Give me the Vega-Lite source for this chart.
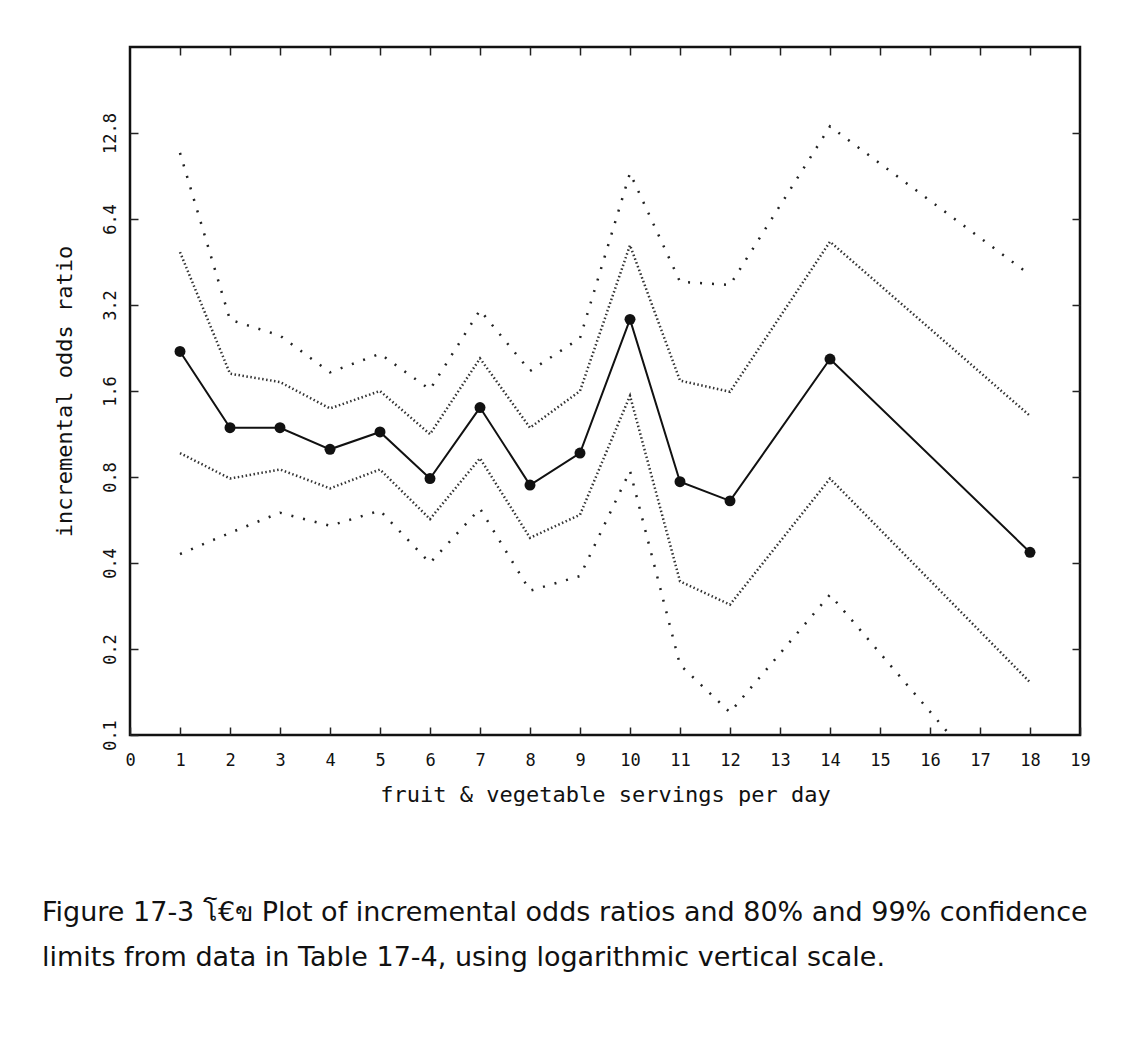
{
  "$schema": "https://vega.github.io/schema/vega-lite/v6.json",
  "autosize": "none",
  "width": 950,
  "height": 688,
  "padding": {"left": 130, "top": 47, "right": 48, "bottom": 313},
  "background": "white",
  "data": {"values": [
    {"x": 1, "est": 2.2, "lo80": 0.97, "hi80": 4.9, "lo99": 0.43, "hi99": 10.9},
    {"x": 2, "est": 1.19, "lo80": 0.79, "hi80": 1.84, "lo99": 0.51, "hi99": 2.84},
    {"x": 3, "est": 1.19, "lo80": 0.85, "hi80": 1.72, "lo99": 0.6, "hi99": 2.5},
    {"x": 4, "est": 1.0, "lo80": 0.73, "hi80": 1.39, "lo99": 0.54, "hi99": 1.86},
    {"x": 5, "est": 1.15, "lo80": 0.85, "hi80": 1.6, "lo99": 0.61, "hi99": 2.16},
    {"x": 6, "est": 0.79, "lo80": 0.57, "hi80": 1.13, "lo99": 0.4, "hi99": 1.62},
    {"x": 7, "est": 1.4, "lo80": 0.93, "hi80": 2.08, "lo99": 0.62, "hi99": 3.07},
    {"x": 8, "est": 0.75, "lo80": 0.49, "hi80": 1.19, "lo99": 0.32, "hi99": 1.88},
    {"x": 9, "est": 0.97, "lo80": 0.59, "hi80": 1.6, "lo99": 0.36, "hi99": 2.45},
    {"x": 10, "est": 2.85, "lo80": 1.54, "hi80": 5.18, "lo99": 0.84, "hi99": 9.27},
    {"x": 11, "est": 0.77, "lo80": 0.345, "hi80": 1.74, "lo99": 0.176, "hi99": 3.86},
    {"x": 12, "est": 0.66, "lo80": 0.286, "hi80": 1.59, "lo99": 0.12, "hi99": 3.76},
    {"x": 14, "est": 2.07, "lo80": 0.79, "hi80": 5.33, "lo99": 0.31, "hi99": 13.5},
    {"x": 18, "est": 0.436, "lo80": 0.153, "hi80": 1.31, "lo99": 0.047, "hi99": 4.08}
  ]},
  "title": {
    "text": ["Figure 17-3 โ€ข Plot of incremental odds ratios and 80% and 99% confidence", "limits from data in Table 17-4, using logarithmic vertical scale."],
    "orient": "bottom",
    "anchor": "start",
    "frame": "group",
    "align": "left",
    "dx": -88,
    "offset": 95,
    "font": "DejaVu Sans",
    "fontSize": 27,
    "fontWeight": "normal",
    "lineHeight": 45,
    "color": "#111"
  },
  "config": {
    "view": {"stroke": "#111", "strokeWidth": 2.5},
    "axis": {
      "domain": false,
      "grid": false,
      "tickColor": "#222",
      "tickWidth": 1.5,
      "tickSize": -8,
      "labelFont": "DejaVu Sans Mono",
      "labelFontSize": 17,
      "labelColor": "#111",
      "titleFont": "DejaVu Sans Mono",
      "titleFontSize": 22,
      "titleFontWeight": "normal",
      "titleColor": "#111"
    }
  },
  "resolve": {"axis": {"x": "independent", "y": "independent"}},
  "layer": [
    {
      "mark": {"type": "line", "clip": true, "color": "#222", "strokeWidth": 2.5, "strokeDash": [2, 10]},
      "encoding": {
        "x": {"field": "x", "type": "quantitative",
          "scale": {"domain": [0, 19], "nice": false, "zero": false},
          "axis": {"orient": "bottom", "values": [0,1,2,3,4,5,6,7,8,9,10,11,12,13,14,15,16,17,18,19],
            "title": "fruit & vegetable servings per day", "labelPadding": 25, "titlePadding": 16, "labelFlush": false, "labelOverlap": false}},
        "y": {"field": "hi99", "type": "quantitative",
          "scale": {"type": "log", "domain": [0.1, 25.6], "nice": false},
          "axis": {"orient": "left", "values": [0.1, 0.2, 0.4, 0.8, 1.6, 3.2, 6.4, 12.8], "format": ".1f",
            "labelAngle": -90, "labelAlign": "center", "labelBaseline": "bottom", "labelPadding": 19,
            "labelFlush": false, "labelOverlap": false,
            "title": "incremental odds ratio", "titlePadding": 25}}
      }
    },
    {
      "mark": {"type": "line", "clip": true, "color": "#222", "strokeWidth": 2.5, "strokeDash": [2, 10]},
      "encoding": {
        "x": {"field": "x", "type": "quantitative",
          "axis": {"orient": "top", "values": [1,2,3,4,5,6,7,8,9,10,11,12,13,14,15,16,17,18], "labels": false, "title": null}},
        "y": {"field": "lo99", "type": "quantitative",
          "axis": {"orient": "right", "values": [0.2, 0.4, 0.8, 1.6, 3.2, 6.4, 12.8], "labels": false, "title": null}}
      }
    },
    {
      "mark": {"type": "line", "clip": true, "color": "#333", "strokeWidth": 2.5, "strokeDash": [1.5, 2.5]},
      "encoding": {
        "x": {"field": "x", "type": "quantitative", "axis": null},
        "y": {"field": "hi80", "type": "quantitative", "axis": null}
      }
    },
    {
      "mark": {"type": "line", "clip": true, "color": "#333", "strokeWidth": 2.5, "strokeDash": [1.5, 2.5]},
      "encoding": {
        "x": {"field": "x", "type": "quantitative", "axis": null},
        "y": {"field": "lo80", "type": "quantitative", "axis": null}
      }
    },
    {
      "mark": {"type": "line", "clip": true, "color": "#111", "strokeWidth": 2},
      "encoding": {
        "x": {"field": "x", "type": "quantitative", "axis": null},
        "y": {"field": "est", "type": "quantitative", "axis": null}
      }
    },
    {
      "mark": {"type": "point", "filled": true, "shape": "circle", "color": "#111", "size": 120, "opacity": 1},
      "encoding": {
        "x": {"field": "x", "type": "quantitative", "axis": null},
        "y": {"field": "est", "type": "quantitative", "axis": null}
      }
    }
  ]
}
